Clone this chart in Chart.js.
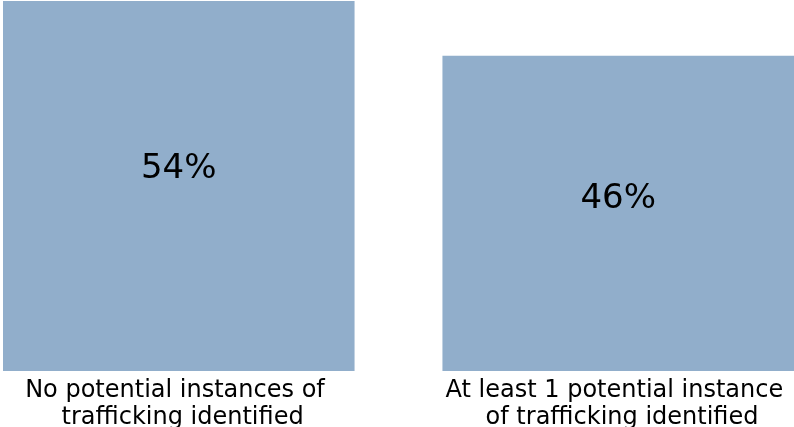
<!DOCTYPE html>
<html>
<head>
<meta charset="utf-8">
<script src="https://cdn.jsdelivr.net/npm/chart.js@4"></script>
<style>
  html, body { margin: 0; padding: 0; background: #fff; }
  #wrap { width: 794px; height: 427px; position: relative; }
</style>
</head>
<body>
<div id="wrap"><canvas id="c" width="794" height="427"></canvas></div>
<script>
const categories = [
  ["No potential instances of ", " trafficking identified"],
  ["At least 1 potential instance ", " of trafficking identified"]
];
const values = [54, 46];
const valueLabels = ["54%", "46%"];

const barColor = "#91AECB";

const insideLabels = {
  id: "insideLabels",
  afterDatasetsDraw(chart) {
    const ctx = chart.ctx;
    const meta = chart.getDatasetMeta(0);
    const ys = chart.scales.y;
    ctx.save();
    ctx.font = "34px 'DejaVu Sans'";
    ctx.fillStyle = "#000";
    ctx.textAlign = "center";
    ctx.textBaseline = "middle";
    meta.data.forEach((bar, i) => {
      const y = ys.getPixelForValue(values[i] * 0.55);
      ctx.fillText(valueLabels[i], bar.x, y + 2);
    });
    ctx.restore();
  }
};

new Chart(document.getElementById("c"), {
  type: "bar",
  data: {
    datasets: [{
      data: values.map((v, i) => ({ x: i, y: v })),
      backgroundColor: barColor,
      borderWidth: 0,
      categoryPercentage: 1.0,
      barPercentage: 0.8
    }]
  },
  options: {
    responsive: false,
    animation: false,
    layout: { padding: { left: 3, top: 1, right: 0, bottom: 0 } },
    plugins: { legend: { display: false }, tooltip: { enabled: false } },
    scales: {
      x: {
        type: "linear",
        min: -0.4,
        max: 1.4,
        offset: false,
        grid: { display: false },
        border: { display: false },
        afterBuildTicks(scale) { scale.ticks = categories.map((c, i) => ({ value: i })); },
        afterFit(scale) {
          scale.height = 56;
          scale.paddingLeft = 0;
          scale.paddingRight = 0;
        },
        ticks: {
          autoSkip: false,
          maxRotation: 0,
          padding: -1,
          color: "#000",
          font: { family: "'DejaVu Sans'", size: 24, lineHeight: 1.1 },
          callback: (v) => categories[v]
        }
      },
      y: {
        display: false,
        min: 0,
        max: 54
      }
    }
  },
  plugins: [insideLabels]
});
</script>
</body>
</html>
